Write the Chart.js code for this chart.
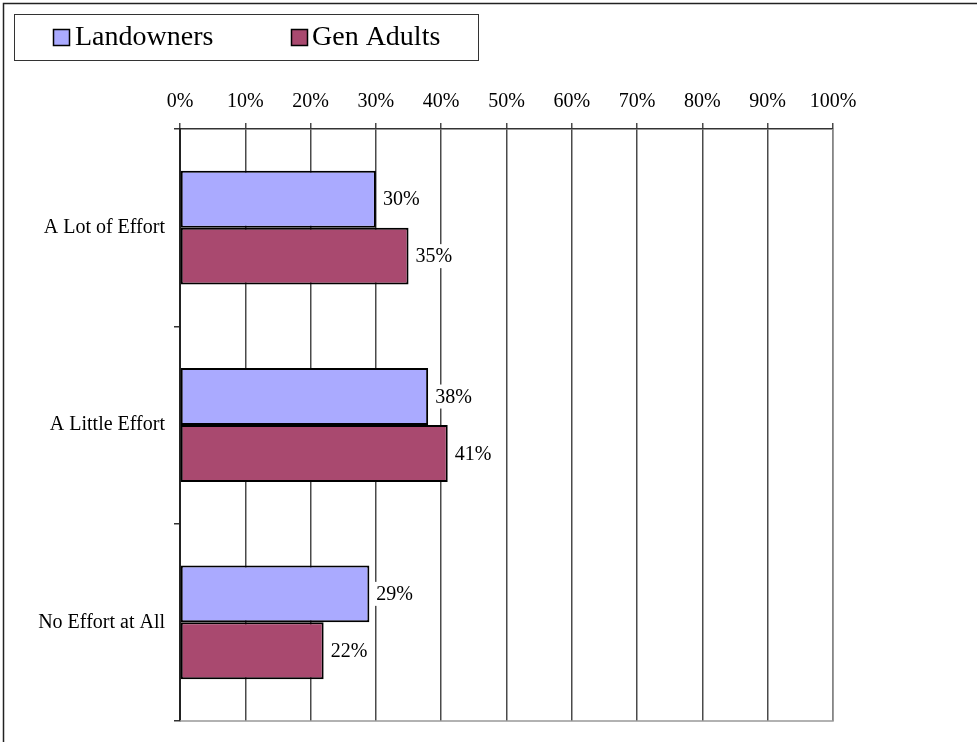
<!DOCTYPE html>
<html>
<head>
<meta charset="utf-8">
<script src="https://cdn.jsdelivr.net/npm/chart.js@4"></script>
<style>
html,body{margin:0;padding:0;background:#fff;}
#wrap{width:977px;height:742px;position:relative;}
</style>
</head>
<body>
<div id="wrap"><canvas id="c" width="977" height="742"></canvas></div>
<script>
const categories = ["A Lot of Effort", "A Little Effort", "No Effort at All"];
const seriesNames = ["Landowners", "Gen Adults"];
const landowners = [30, 38, 29];
const genAdults = [35, 41, 22];
const valueLabels = [["30%", "38%", "29%"], ["35%", "41%", "22%"]];
const tickValues = [0, 10, 20, 30, 40, 50, 60, 70, 80, 90, 100];

const colors = ["#AAAAFF", "#A9496F"];
const FONT = "'Liberation Serif', 'Times New Roman', serif";

const decor = {
  id: 'decor',
  beforeDraw(chart) {
    const ctx = chart.ctx;
    ctx.save();
    ctx.fillStyle = '#fff';
    ctx.fillRect(0, 0, chart.width, chart.height);
    ctx.strokeStyle = '#222';
    ctx.lineWidth = 1.5;
    ctx.beginPath();
    ctx.moveTo(3.5, chart.height);
    ctx.lineTo(3.5, 3.5);
    ctx.lineTo(chart.width, 3.5);
    ctx.stroke();
    ctx.restore();
  },
  afterDraw(chart) {
    const ctx = chart.ctx;
    const a = chart.chartArea;
    ctx.save();
    // plot area right & bottom border
    ctx.strokeStyle = '#999';
    ctx.lineWidth = 1.5;
    ctx.beginPath();
    ctx.moveTo(a.left, a.bottom);
    ctx.lineTo(a.right, a.bottom);
    ctx.lineTo(a.right, a.top);
    ctx.stroke();
    // legend
    ctx.strokeStyle = '#333';
    ctx.lineWidth = 1;
    ctx.strokeRect(14.5, 14.5, 464, 46);
    ctx.font = '28px ' + FONT;
    ctx.textBaseline = 'middle';
    const items = [[53, 75], [291, 312]];
    chart.data.datasets.forEach((ds, i) => {
      ctx.fillStyle = ds.backgroundColor;
      ctx.fillRect(items[i][0], 29, 16, 16);
      ctx.strokeStyle = '#000';
      ctx.lineWidth = 1.5;
      ctx.strokeRect(items[i][0] + 0.5, 29.5, 16, 16);
      ctx.fillStyle = '#000';
      ctx.fillText(ds.label, items[i][1], 38);
    });
    ctx.restore();
  },
  afterDatasetsDraw(chart) {
    const ctx = chart.ctx;
    ctx.save();
    ctx.font = '20px ' + FONT;
    ctx.textBaseline = 'middle';
    ctx.textAlign = 'left';
    chart.data.datasets.forEach((ds, i) => {
      const meta = chart.getDatasetMeta(i);
      meta.data.forEach((bar, j) => {
        const txt = valueLabels[i][j];
        const w = ctx.measureText(txt).width;
        ctx.fillStyle = '#fff';
        ctx.fillRect(bar.x + 3, bar.y - 12, w + 8, 24);
        ctx.fillStyle = '#000';
        ctx.fillText(txt, bar.x + 7, bar.y + 1);
      });
    });
    ctx.restore();
  }
};

new Chart(document.getElementById('c'), {
  type: 'bar',
  data: {
    labels: categories,
    datasets: [
      { label: seriesNames[0], data: landowners, backgroundColor: colors[0], borderColor: '#000', borderWidth: 2, borderSkipped: false, categoryPercentage: 0.577, barPercentage: 1 },
      { label: seriesNames[1], data: genAdults, backgroundColor: colors[1], borderColor: '#000', borderWidth: 2, borderSkipped: false, categoryPercentage: 0.577, barPercentage: 1 }
    ]
  },
  options: {
    indexAxis: 'y',
    responsive: false,
    animation: false,
    events: [],
    layout: { padding: { left: 0, right: 144, top: 0, bottom: 20 } },
    plugins: { legend: { display: false }, tooltip: { enabled: false } },
    scales: {
      x: {
        position: 'top',
        min: 0, max: 100,
        afterFit(s) { s.height = 129; },
        afterBuildTicks(s) { s.ticks = tickValues.map(v => ({ value: v })); },
        ticks: {
          font: { family: FONT, size: 20 },
          color: '#000',
          padding: 9,
          maxRotation: 0,
          callback: v => v + '%'
        },
        grid: { color: '#4a4a4a', lineWidth: 1.5, tickLength: 6, tickColor: '#4a4a4a' },
        border: { color: '#333', width: 1.5 }
      },
      y: {
        afterFit(s) { s.width = 180; },
        ticks: { font: { family: FONT, size: 20 }, color: '#000', padding: 9 },
        grid: { drawOnChartArea: false, offset: true, tickLength: 6, tickColor: '#333', lineWidth: 1.5 },
        border: { color: '#222', width: 2 }
      }
    }
  },
  plugins: [decor]
});
</script>
</body>
</html>
